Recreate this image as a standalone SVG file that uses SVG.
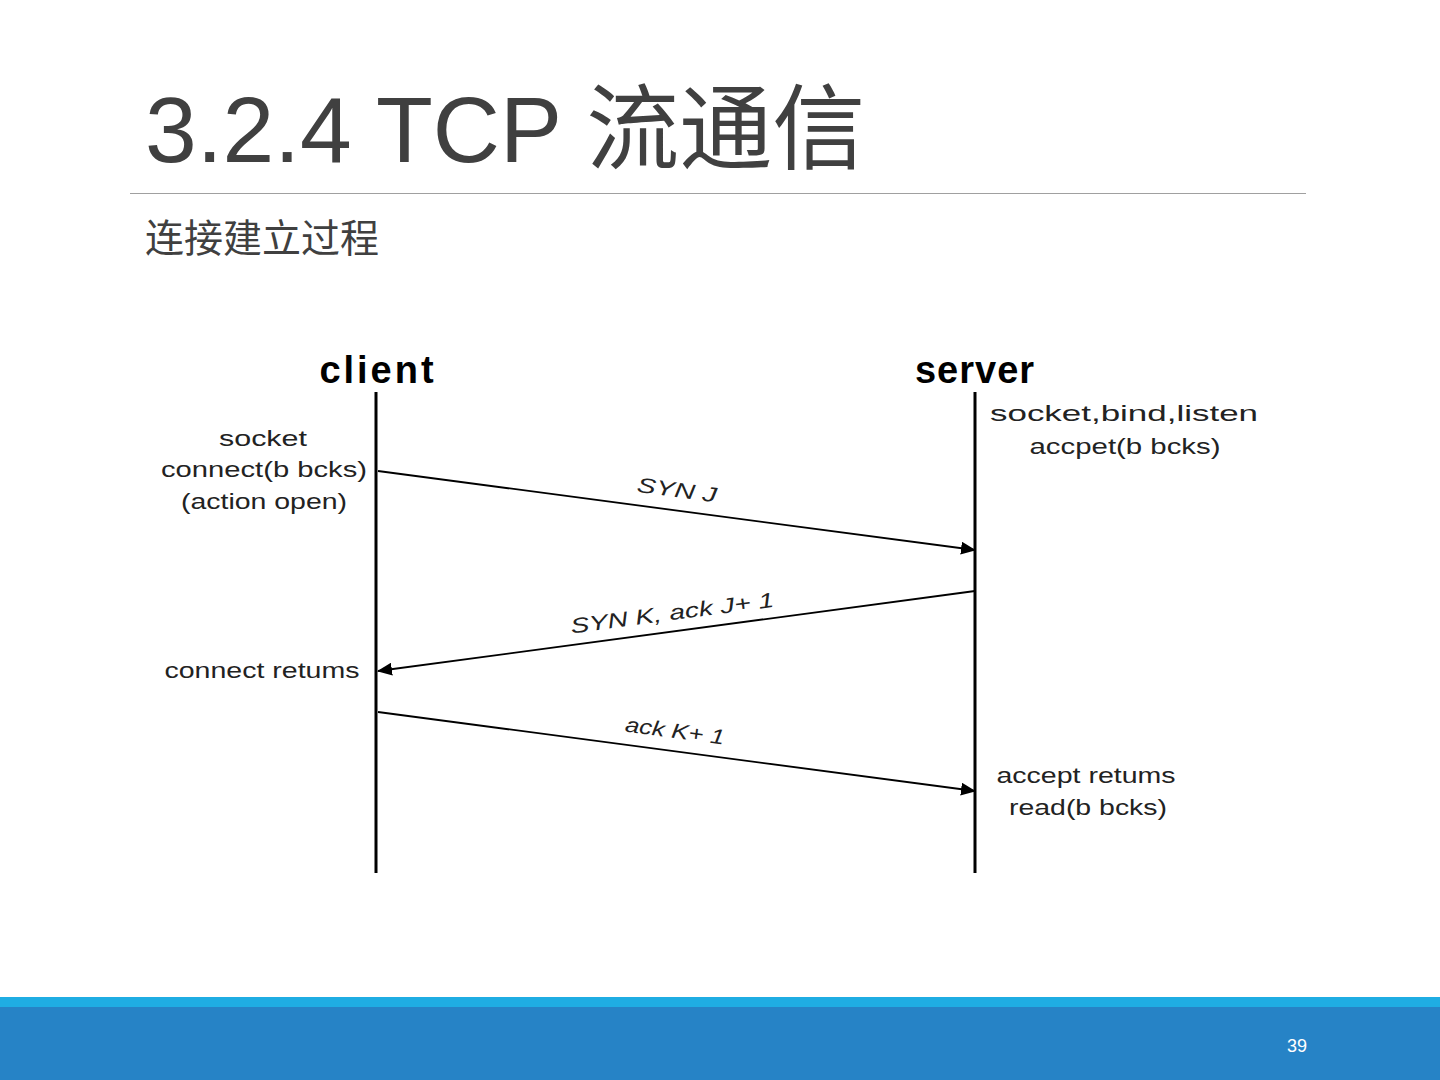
<svg xmlns="http://www.w3.org/2000/svg" width="1440" height="1080" viewBox="0 0 1440 1080">
<style>
.title{font-family:"Liberation Sans","Noto Sans CJK SC",sans-serif;fill:#404040}
.head{font-family:"Liberation Sans",sans-serif;font-weight:bold;font-size:38px;fill:#000;text-anchor:middle}
.lbl{font-family:"Liberation Sans",sans-serif;font-size:22px;fill:#222;text-anchor:middle}
.msg{font-family:"Liberation Sans",sans-serif;font-style:italic;font-size:21px;fill:#222;text-anchor:middle}
.life{stroke:#000;stroke-width:3}
.arr{stroke:#000;stroke-width:1.8;fill:none;marker-end:url(#ah)}
</style>
<defs>
<marker id="ah" markerWidth="15" markerHeight="13" refX="14" refY="6.5" orient="auto" markerUnits="userSpaceOnUse">
<path d="M0,0 L15,6.5 L0,13 Z" fill="#000"/>
</marker>
</defs>
<rect width="1440" height="1080" fill="#fff"/>
<g id="title">
<text class="title" x="145" y="162" font-size="93">3.2.4 TCP 流通信</text>
<line x1="130" y1="193.5" x2="1306" y2="193.5" stroke="#a0a0a0" stroke-width="1"/>
<text class="title" x="145" y="252" font-size="39">连接建立过程</text>
</g>
<g id="client">
<text class="head" x="378" y="383" letter-spacing="3">client</text>
<line class="life" x1="376" y1="392" x2="376" y2="873"/>
<text class="lbl" x="263" y="446" textLength="88" lengthAdjust="spacingAndGlyphs">socket</text>
<text class="lbl" x="264" y="477" textLength="206" lengthAdjust="spacingAndGlyphs">connect(b bcks)</text>
<text class="lbl" x="264" y="509" textLength="166" lengthAdjust="spacingAndGlyphs">(action open)</text>
<text class="lbl" x="262" y="678" textLength="195" lengthAdjust="spacingAndGlyphs">connect retums</text>
</g>
<g id="server">
<text class="head" x="975" y="383" letter-spacing="1">server</text>
<line class="life" x1="975" y1="392" x2="975" y2="873"/>
<text class="lbl" x="1124" y="421" textLength="268" lengthAdjust="spacingAndGlyphs">socket,bind,listen</text>
<text class="lbl" x="1125" y="454" textLength="191" lengthAdjust="spacingAndGlyphs">accpet(b bcks)</text>
<text class="lbl" x="1086" y="783" textLength="179" lengthAdjust="spacingAndGlyphs">accept retums</text>
<text class="lbl" x="1088" y="815" textLength="158" lengthAdjust="spacingAndGlyphs">read(b bcks)</text>
</g>
<g id="connectors">
<line class="arr" x1="378" y1="471" x2="975" y2="550"/>
<line class="arr" x1="975" y1="591" x2="378" y2="671"/>
<line class="arr" x1="378" y1="712" x2="975" y2="791"/>
<text class="msg" transform="translate(676,497) rotate(7.5)" textLength="80" lengthAdjust="spacingAndGlyphs">SYN J</text>
<text class="msg" transform="translate(673,620) rotate(-7.5)" textLength="205" lengthAdjust="spacingAndGlyphs">SYN K, ack J+ 1</text>
<text class="msg" transform="translate(674,738) rotate(7.5)" textLength="100" lengthAdjust="spacingAndGlyphs">ack K+ 1</text>
</g>
<g id="footer">
<rect x="0" y="997" width="1440" height="10" fill="#1fade3"/>
<rect x="0" y="1007" width="1440" height="73" fill="#2683c6"/>
<text x="1297" y="1052" font-family="Liberation Sans,sans-serif" font-size="18" fill="#fff" text-anchor="middle">39</text>
</g>
</svg>
